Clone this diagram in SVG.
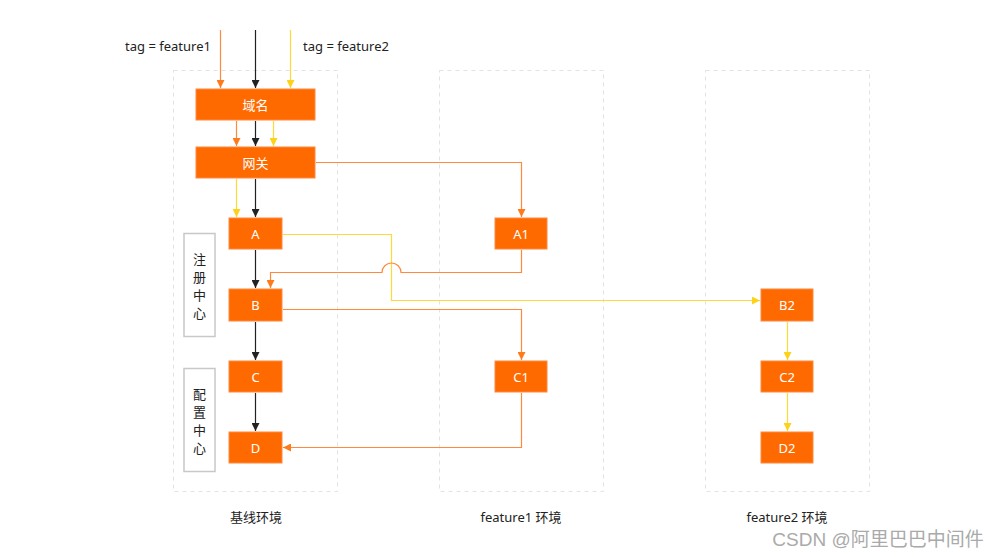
<svg xmlns="http://www.w3.org/2000/svg" width="1000" height="557" viewBox="0 0 1000 557">
<style>
.env{fill:none;stroke:#e3e3e3;stroke-width:1;stroke-dasharray:4 4}
.node rect{fill:#ff6a00;stroke:#ff8a3d;stroke-width:1}
.node text{fill:#fff;font-family:"Noto Sans","Noto Sans CJK SC",sans-serif;font-size:13px;text-anchor:middle;dominant-baseline:central}
.side rect{fill:#fff;stroke:#c8c8c8;stroke-width:1.5}
.side text{fill:#222;font-family:"Noto Sans CJK SC",sans-serif;font-size:13px;text-anchor:middle;dominant-baseline:central}
.lbl{fill:#222;font-family:"Noto Sans","Noto Sans CJK SC",sans-serif;font-size:13px;text-anchor:middle;dominant-baseline:central}
.k{fill:none;stroke:#222;stroke-width:1.2}
.o{fill:none;stroke:#ff8a3d;stroke-width:1.2}
.y{fill:none;stroke:#ffd83a;stroke-width:1.2}
</style>
<defs>
<marker id="mk" viewBox="0 0 10 10" refX="10" refY="5" markerWidth="8" markerHeight="8" markerUnits="userSpaceOnUse" orient="auto"><path d="M0,0 L10,5 L0,10 z" fill="#222"/></marker>
<marker id="mo" viewBox="0 0 10 10" refX="10" refY="5" markerWidth="8" markerHeight="8" markerUnits="userSpaceOnUse" orient="auto"><path d="M0,0 L10,5 L0,10 z" fill="#ff7a1a"/></marker>
<marker id="my" viewBox="0 0 10 10" refX="10" refY="5" markerWidth="8" markerHeight="8" markerUnits="userSpaceOnUse" orient="auto"><path d="M0,0 L10,5 L0,10 z" fill="#ffd21a"/></marker>
</defs>
<rect width="1000" height="557" fill="#fff"/>
<g id="environments">
<rect class="env" x="173.5" y="70.5" width="164" height="421"/>
<rect class="env" x="439.5" y="70.5" width="164" height="421"/>
<rect class="env" x="705.5" y="70.5" width="164" height="421"/>
<text class="lbl" x="256" y="517">基线环境</text>
<text class="lbl" x="521" y="517">feature1 环境</text>
<text class="lbl" x="787" y="517">feature2 环境</text>
</g>
<g id="tags">
<text class="lbl" x="168" y="46">tag = feature1</text>
<text class="lbl" x="346" y="46">tag = feature2</text>
</g>
<g id="connectors">
<path class="o" d="M220.5,30 V88" marker-end="url(#mo)"/>
<path class="k" d="M255.5,30 V88" marker-end="url(#mk)"/>
<path class="y" d="M290.5,30 V88" marker-end="url(#my)"/>
<path class="o" d="M236.5,121 V146" marker-end="url(#mo)"/>
<path class="k" d="M255.5,121 V146" marker-end="url(#mk)"/>
<path class="y" d="M273.5,121 V146" marker-end="url(#my)"/>
<path class="y" d="M236.5,179 V217" marker-end="url(#my)"/>
<path class="k" d="M255.5,179 V217" marker-end="url(#mk)"/>
<path class="o" d="M316,162.5 H521.5 V217" marker-end="url(#mo)"/>
<path class="y" d="M283,234.5 H391.5 V300.5 H760" marker-end="url(#my)"/>
<path class="o" d="M521.5,250 V272.5 H401 A9.5,9.5 0 0 0 382,272.5 H270.5 V288" marker-end="url(#mo)"/>
<path class="k" d="M255.5,250 V288" marker-end="url(#mk)"/>
<path class="o" d="M283,309.5 H521.5 V360" marker-end="url(#mo)"/>
<path class="k" d="M255.5,322 V360" marker-end="url(#mk)"/>
<path class="k" d="M255.5,393 V431" marker-end="url(#mk)"/>
<path class="o" d="M521.5,393 V447.5 H283" marker-end="url(#mo)"/>
<path class="y" d="M787.5,322 V360" marker-end="url(#my)"/>
<path class="y" d="M787.5,393 V431" marker-end="url(#my)"/>
</g>
<g id="node-domain" class="node"><rect x="196" y="89" width="119" height="31"/><text x="255.5" y="104.5">域名</text></g>
<g id="node-gateway" class="node"><rect x="196" y="147" width="119" height="31"/><text x="255.5" y="162.5">网关</text></g>
<g id="node-A" class="node"><rect x="229" y="218" width="53" height="31"/><text x="255.5" y="233.5">A</text></g>
<g id="node-B" class="node"><rect x="229" y="289" width="53" height="32"/><text x="255.5" y="305">B</text></g>
<g id="node-C" class="node"><rect x="229" y="361" width="53" height="31"/><text x="255.5" y="376.5">C</text></g>
<g id="node-D" class="node"><rect x="229" y="432" width="53" height="31"/><text x="255.5" y="447.5">D</text></g>
<g id="node-A1" class="node"><rect x="495" y="218" width="52" height="31"/><text x="521" y="233.5">A1</text></g>
<g id="node-C1" class="node"><rect x="495" y="361" width="52" height="31"/><text x="521" y="376.5">C1</text></g>
<g id="node-B2" class="node"><rect x="761" y="289" width="52" height="32"/><text x="787" y="305">B2</text></g>
<g id="node-C2" class="node"><rect x="761" y="361" width="52" height="31"/><text x="787" y="376.5">C2</text></g>
<g id="node-D2" class="node"><rect x="761" y="432" width="52" height="31"/><text x="787" y="447.5">D2</text></g>
<g id="registry" class="side"><rect x="184" y="233.5" width="31" height="103"/>
<text x="199.5" y="258">注</text><text x="199.5" y="276">册</text><text x="199.5" y="294">中</text><text x="199.5" y="312">心</text></g>
<g id="config" class="side"><rect x="184" y="368.5" width="31" height="103"/>
<text x="199.5" y="393">配</text><text x="199.5" y="411">置</text><text x="199.5" y="429">中</text><text x="199.5" y="447">心</text></g>
<text x="878" y="539" fill="#aaa" font-family="'Liberation Sans','Noto Sans CJK SC',sans-serif" font-size="19" text-anchor="middle" dominant-baseline="central">CSDN @阿里巴巴中间件</text>
</svg>
